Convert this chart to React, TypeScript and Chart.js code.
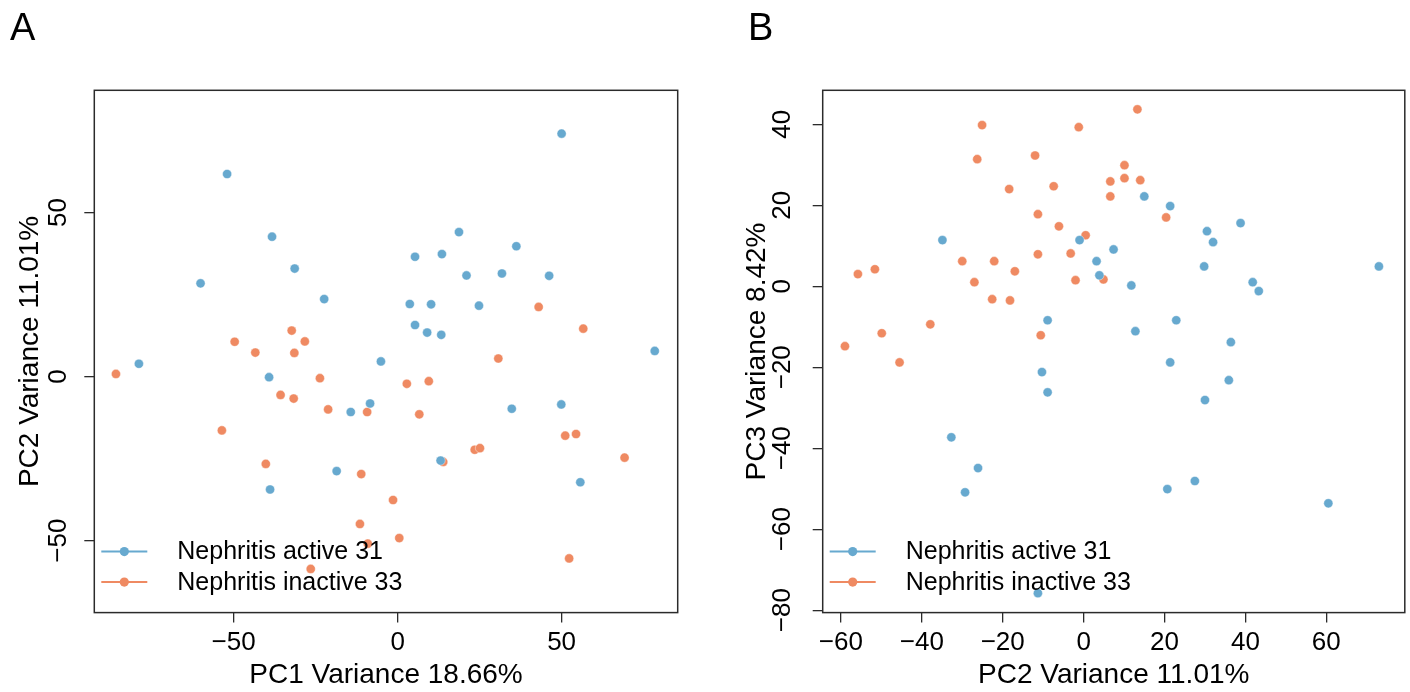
import React, { useEffect, useRef } from "react";
import { Chart, registerables } from "chart.js";

Chart.register(...registerables);

// ---------- DATA ----------
const LEGEND_LABELS = ["Nephritis active 31", "Nephritis inactive 33"];

const A_ACTIVE_X = [-78.9, -60.1, -52.0, -38.3, -39.2, -38.9, -31.4, -22.4, -14.3, -8.4, -18.6, -5.1, 3.7, 5.3, 5.3, 9.0, 10.2, 13.3, 13.5, 18.7, 21.0, 13.1, 24.8, 31.8, 36.2, 34.8, 46.2, 50.0, 49.9, 55.7, 78.4];
const A_ACTIVE_Y = [3.9, 28.4, 61.7, 42.6, -0.2, -34.4, 32.9, 23.6, -10.8, -8.2, -28.8, 4.6, 22.1, 36.5, 15.7, 13.4, 22.0, 12.7, 37.3, 44.0, 30.8, -25.6, 21.6, 31.4, 39.7, -9.8, 30.7, 74.0, -8.5, -32.2, 7.8];

const A_INACTIVE_X = [-85.9, -53.6, -49.7, -43.4, -40.2, -35.7, -32.3, -31.5, -31.7, -28.3, -23.7, -21.2, -26.5, -9.3, -11.1, -11.5, -9.1, -1.4, 0.5, 2.8, 9.5, 6.6, 13.9, 23.5, 25.1, 30.7, 43.0, 56.6, 51.1, 54.4, 69.2, 52.3];
const A_INACTIVE_Y = [0.8, -16.4, 10.6, 7.3, -26.6, -5.6, 14.0, 7.2, -6.7, 10.7, -0.5, -10.0, -58.6, -10.8, -29.7, -44.9, -50.9, -37.6, -49.2, -2.2, -1.4, -11.5, -26.0, -22.3, -21.8, 5.5, 21.2, 14.6, -18.0, -17.5, -24.7, -55.4];

const B_ACTIVE_X = [-34.9, -1.0, 7.4, 3.2, 3.9, 15.0, 21.4, 30.5, 32.0, 38.8, 29.8, 41.8, 43.3, 73.0, 11.8, -8.9, -10.3, -8.9, 12.8, 22.9, 21.4, 36.4, 35.9, 30.0, -32.7, -26.1, -29.3, 20.7, 27.5, 60.5, -11.3];
const B_ACTIVE_Y = [11.4, 11.4, 9.1, 6.2, 2.7, 22.2, 19.8, 13.6, 10.9, 15.6, 4.9, 1.0, -1.2, 4.9, 0.2, -8.4, -21.2, -26.2, -11.1, -8.4, -18.8, -13.8, -23.2, -28.1, -37.3, -44.9, -50.9, -50.1, -48.1, -53.6, -75.8];

const B_INACTIVE_X = [-59.0, -55.8, -51.6, -49.9, -45.5, -37.9, -30.0, -27.0, -26.3, -25.1, -22.1, -22.6, -18.4, -18.2, -17.0, -12.0, -11.3, -11.3, -10.6, -7.4, -6.1, -3.2, -2.0, -1.2, 0.5, 4.9, 6.6, 6.6, 10.1, 10.1, 13.3, 14.0, 20.4];
const B_INACTIVE_Y = [-14.8, 3.0, 4.2, -11.6, -18.8, -9.4, 6.2, 1.0, 31.4, 39.8, 6.2, -3.2, 24.0, -3.5, 3.7, 32.3, 17.8, 7.9, -12.1, 24.7, 14.8, 8.1, 1.5, 39.3, 12.6, 1.7, 25.9, 22.2, 29.9, 26.7, 43.7, 26.2, 17.0];

const A_X_TICKS = [-50, 0, 50];
const A_Y_TICKS = [-50, 0, 50];
const B_X_TICKS = [-60, -40, -20, 0, 20, 40, 60];
const B_Y_TICKS = [-80, -60, -40, -20, 0, 20, 40];

const A_X_TITLE = "PC1 Variance 18.66%";
const A_Y_TITLE = "PC2 Variance 11.01%";
const B_X_TITLE = "PC2 Variance 11.01%";
const B_Y_TITLE = "PC3 Variance 8.42%";

// ---------- STYLE ----------
const BLUE = "#67A9CF";
const ORANGE = "#EF8A62";
const FONT = '"Liberation Sans", Arial, Helvetica, sans-serif';
const AXIS_COLOR = "#2b2b2b";

const fmt = (v: number) => (v < 0 ? "\u2212" + Math.abs(v) : String(v));
const zip = (xs: number[], ys: number[]) => xs.map((x, i) => ({ x, y: ys[i] }));

type PanelSpec = {
  letter: string;
  letterX: number;
  canvasLeft: number;
  width: number;
  xMin: number; xMax: number; yMin: number; yMax: number;
  xTicks: number[]; yTicks: number[];
  xTitle: string; yTitle: string;
  active: { x: number; y: number }[];
  inactive: { x: number; y: number }[];
  yAxisWidth: number;
  rightPad: number;
  tickFont: number;
  yTickPad: number;
  yTitlePad: number;
};

const framePlugin = {
  id: "frameLegend",
  afterDatasetsDraw(chart: any, _args: any, opts: any) {
    const { ctx } = chart;
    const { left, top, right, bottom } = chart.chartArea;
    ctx.save();
    ctx.strokeStyle = AXIS_COLOR;
    ctx.lineWidth = 1.5;
    ctx.strokeRect(left, top, right - left, bottom - top);

    const rows = [61, 30.5];
    chart.data.datasets.forEach((ds: any, i: number) => {
      const y = bottom - rows[i];
      ctx.strokeStyle = ds.backgroundColor;
      ctx.lineWidth = 2;
      ctx.beginPath();
      ctx.moveTo(left + 7, y);
      ctx.lineTo(left + 53, y);
      ctx.stroke();
      ctx.fillStyle = ds.backgroundColor;
      ctx.beginPath();
      ctx.arc(left + 30, y, 4.6, 0, Math.PI * 2);
      ctx.fill();
      ctx.fillStyle = "#000";
      ctx.font = `25px ${FONT}`;
      ctx.textAlign = "left";
      ctx.textBaseline = "middle";
      ctx.fillText(ds.label, left + 83, y + 1);
    });

    ctx.fillStyle = "#000";
    ctx.font = `38px ${FONT}`;
    ctx.textAlign = "left";
    ctx.textBaseline = "alphabetic";
    ctx.fillText(opts.letter, opts.letterX, 40);
    ctx.restore();
  },
};

function Panel({ spec }: { spec: PanelSpec }) {
  const ref = useRef<HTMLCanvasElement | null>(null);
  useEffect(() => {
    if (!ref.current) return;
    const pointStyle = {
      pointRadius: 4.6,
      pointHoverRadius: 4.6,
      pointBorderWidth: 0.6,
      pointBorderColor: "rgba(255,255,255,0.7)",
    };
    const chart = new Chart(ref.current, {
      type: "scatter",
      data: {
        datasets: [
          { label: LEGEND_LABELS[0], data: spec.active, backgroundColor: BLUE, ...pointStyle },
          { label: LEGEND_LABELS[1], data: spec.inactive, backgroundColor: ORANGE, ...pointStyle },
        ],
      },
      plugins: [framePlugin],
      options: {
        animation: false,
        responsive: false,
        events: [],
        layout: { padding: { left: 0, top: 90.3, right: spec.rightPad, bottom: 0 } },
        plugins: {
          legend: { display: false },
          tooltip: { enabled: false },
          // @ts-ignore
          frameLegend: { letter: spec.letter, letterX: spec.letterX },
        },
        scales: {
          x: {
            type: "linear",
            min: spec.xMin,
            max: spec.xMax,
            afterBuildTicks: (s: any) => {
              s.ticks = spec.xTicks.map((v) => ({ value: v }));
            },
            afterFit: (s: any) => {
              s.height = 79.4;
            },
            grid: {
              display: true,
              drawOnChartArea: false,
              drawTicks: true,
              tickLength: 10,
              color: AXIS_COLOR,
              lineWidth: 1.3,
            },
            border: { display: false },
            ticks: {
              autoSkip: false,
              maxRotation: 0,
              minRotation: 0,
              padding: 4.6,
              color: "#000",
              font: { family: FONT, size: spec.tickFont },
              callback: (v: any) => fmt(Number(v)),
            },
            title: {
              display: true,
              text: spec.xTitle,
              color: "#000",
              font: { family: FONT, size: 28 },
              padding: { top: 0, bottom: 0 },
            },
          },
          y: {
            type: "linear",
            min: spec.yMin,
            max: spec.yMax,
            afterBuildTicks: (s: any) => {
              s.ticks = spec.yTicks.map((v) => ({ value: v }));
            },
            afterFit: (s: any) => {
              s.width = spec.yAxisWidth;
            },
            grid: {
              display: true,
              drawOnChartArea: false,
              drawTicks: true,
              tickLength: 10,
              color: AXIS_COLOR,
              lineWidth: 1.3,
            },
            border: { display: false },
            ticks: {
              autoSkip: false,
              minRotation: 90,
              maxRotation: 90,
              crossAlign: "center",
              padding: spec.yTickPad,
              color: "#000",
              font: { family: FONT, size: spec.tickFont },
              callback: (v: any) => fmt(Number(v)),
            },
            title: {
              display: true,
              text: spec.yTitle,
              color: "#000",
              font: { family: FONT, size: 28 },
              padding: { top: spec.yTitlePad, bottom: 0 },
            },
          },
        },
      } as any,
    });
    return () => chart.destroy();
  }, [spec]);

  return (
    <canvas
      ref={ref}
      width={spec.width}
      height={692}
      style={{ position: "absolute", left: spec.canvasLeft, top: 0, width: spec.width, height: 692 }}
    />
  );
}

const PANEL_A: PanelSpec = {
  letter: "A",
  letterX: 10,
  canvasLeft: 0,
  width: 705,
  xMin: -92.5, xMax: 85.4, yMin: -71.9, yMax: 87.2,
  xTicks: A_X_TICKS, yTicks: A_Y_TICKS,
  xTitle: A_X_TITLE, yTitle: A_Y_TITLE,
  active: zip(A_ACTIVE_X, A_ACTIVE_Y),
  inactive: zip(A_INACTIVE_X, A_INACTIVE_Y),
  yAxisWidth: 94.3,
  rightPad: 705 - 677.7,
  tickFont: 26,
  yTickPad: 3,
  yTitlePad: 13,
};

const PANEL_B: PanelSpec = {
  letter: "B",
  letterX: 43,
  canvasLeft: 705,
  width: 705,
  xMin: -64.5, xMax: 79.4, yMin: -80.6, yMax: 48.4,
  xTicks: B_X_TICKS, yTicks: B_Y_TICKS,
  xTitle: B_X_TITLE, yTitle: B_Y_TITLE,
  active: zip(B_ACTIVE_X, B_ACTIVE_Y),
  inactive: zip(B_INACTIVE_X, B_INACTIVE_Y),
  yAxisWidth: 822.7 - 705,
  rightPad: 2,
  tickFont: 26,
  yTickPad: 8,
  yTitlePad: 35,
};

export default function App() {
  return (
    <div style={{ position: "fixed", left: 0, top: 0, width: 1410, height: 692, background: "#fff", overflow: "hidden" }}>
      <Panel spec={PANEL_A} />
      <Panel spec={PANEL_B} />
    </div>
  );
}
